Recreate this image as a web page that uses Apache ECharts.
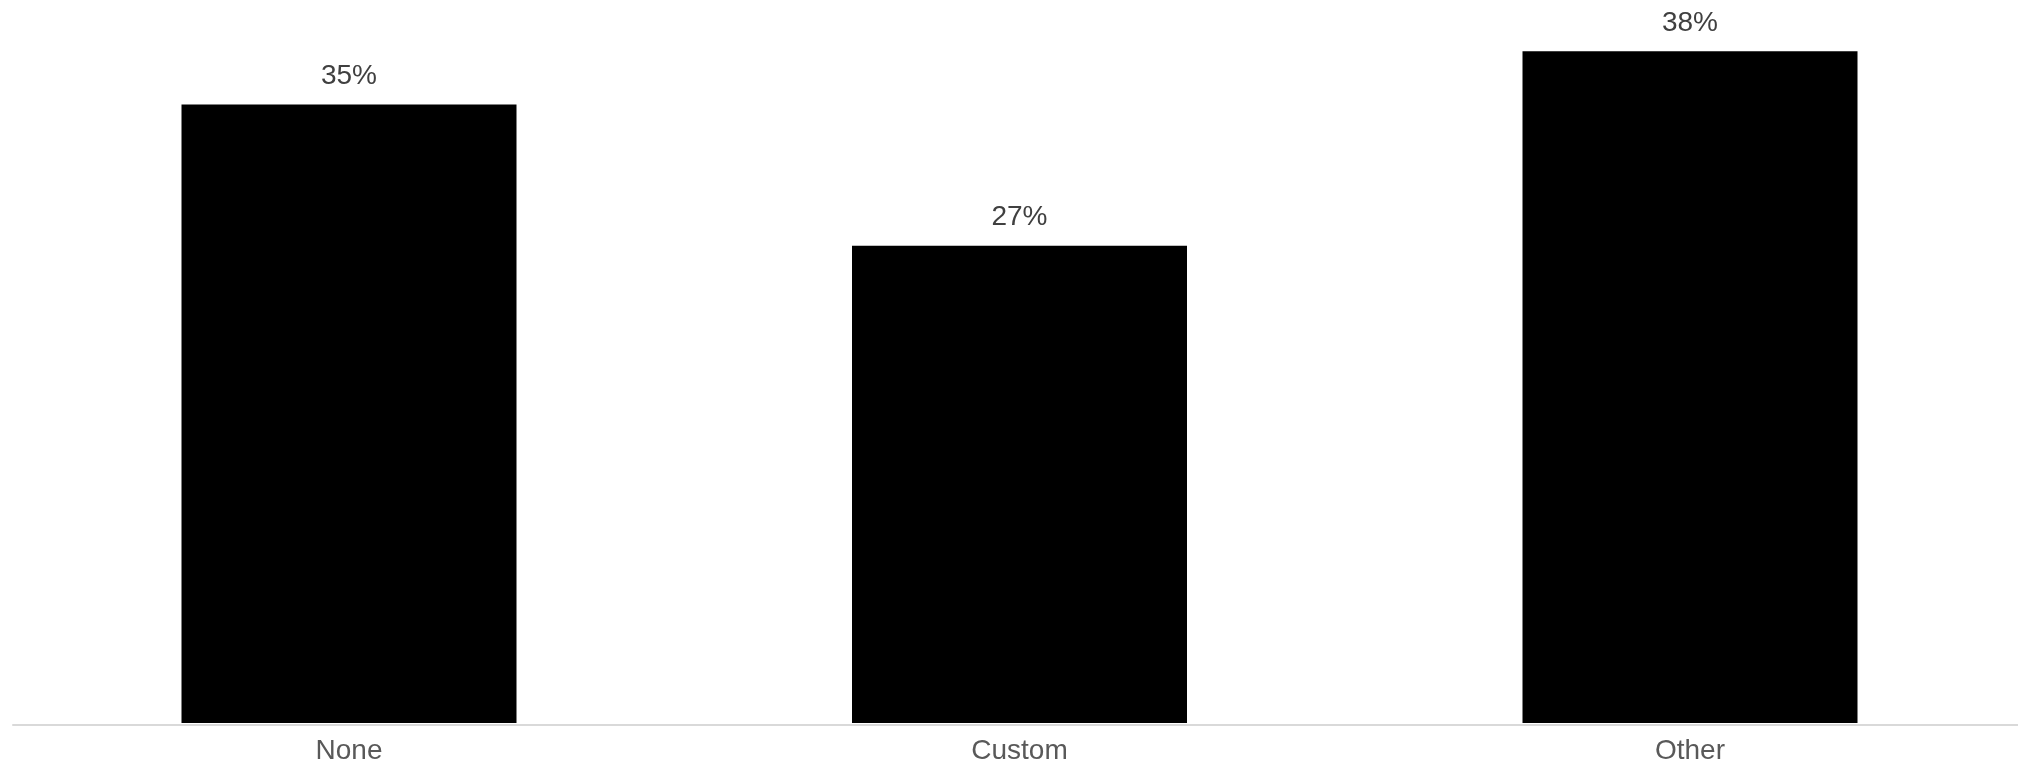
<!DOCTYPE html>
<html>
<head>
<meta charset="utf-8">
<script src="https://cdn.jsdelivr.net/npm/echarts@6/dist/echarts.min.js"></script>
<style>
html,body{margin:0;padding:0;background:#fff;}
#chart{width:2018px;height:765px;}
</style>
</head>
<body>
<div id="chart"></div>
<script>
const categories = ['None', 'Custom', 'Other'];
const values = [35, 27, 38];

const chart = echarts.init(document.getElementById('chart'), null, {renderer: 'canvas'});
chart.setOption({
  animation: false,
  grid: [
    {left: 349, right: 328, top: 16, bottom: 40, containLabel: false},
    {left: 13, right: 0, top: 16, bottom: 40, containLabel: false}
  ],
  xAxis: [{
    type: 'category',
    gridIndex: 0,
    data: categories,
    boundaryGap: false,
    axisLine: {show: false},
    axisTick: {show: false},
    axisLabel: {color: '#595959', fontSize: 28, fontFamily: 'Liberation Sans, Arial, sans-serif', margin: 14}
  }, {
    type: 'category',
    gridIndex: 1,
    data: categories,
    axisLine: {show: true, lineStyle: {color: '#d9d9d9', width: 2}},
    axisTick: {show: false},
    axisLabel: {show: false}
  }],
  yAxis: [{
    type: 'value',
    gridIndex: 0,
    min: 0,
    max: 40,
    show: false,
    splitLine: {show: false}
  }, {
    type: 'value',
    gridIndex: 1,
    min: 0,
    max: 40,
    show: false,
    splitLine: {show: false}
  }],
  series: [{
    type: 'bar',
    xAxisIndex: 0,
    yAxisIndex: 0,
    data: values,
    barWidth: 335,
    itemStyle: {color: '#000000'},
    z: 3,
    label: {
      show: true,
      position: 'top',
      distance: 14,
      formatter: '{c}%',
      color: '#404040',
      fontSize: 28,
      fontFamily: 'Liberation Sans, Arial, sans-serif'
    }
  }]
});
</script>
</body>
</html>
